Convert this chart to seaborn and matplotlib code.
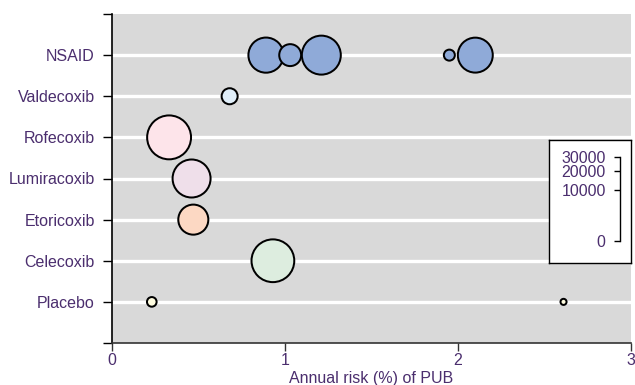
import numpy as np
import pandas as pd
import matplotlib
matplotlib.use("Agg")
import matplotlib.pyplot as plt
import seaborn as sns

# categories, top to bottom
drugs = ["NSAID", "Valdecoxib", "Rofecoxib", "Lumiracoxib", "Etoricoxib", "Celecoxib", "Placebo"]

# one row per trial arm
arm_drug = ["NSAID", "NSAID", "NSAID", "NSAID", "NSAID",
            "Valdecoxib", "Rofecoxib", "Lumiracoxib", "Etoricoxib", "Celecoxib",
            "Placebo", "Placebo"]
arm_risk = [0.89, 1.03, 1.21, 1.95, 2.10,
            0.68, 0.33, 0.46, 0.47, 0.93,
            0.23, 2.61]
arm_patients = [5300, 2200, 6450, 650, 5250,
                1250, 8100, 6150, 3950, 7700,
                520, 250]

fills = {
    "NSAID": "#8faad8",
    "Valdecoxib": "#e0eef9",
    "Rofecoxib": "#fde4ea",
    "Lumiracoxib": "#efdfea",
    "Etoricoxib": "#fcd8c3",
    "Celecoxib": "#ddeddf",
    "Placebo": "#fffde0",
}

x_ticks = [0, 1, 2, 3]
legend_ticks = [0, 10000, 20000, 30000]

purple = "#4b2e6e"
dpi = 100
fs = 11.5

sns.set_style("white")
plt.rcParams["font.family"] = ["Liberation Sans", "DejaVu Sans"]

df = pd.DataFrame({"drug": arm_drug, "risk": arm_risk, "n": arm_patients})
# bottom row is position 0
df["pos"] = df["drug"].map({d: len(drugs) - 1 - i for i, d in enumerate(drugs)})

# circle area proportional to number of patients
edge_px = 2.0
outer_px = 51 * np.sqrt(df["n"] / 10000)
df["s"] = ((outer_px - edge_px) * 72 / dpi) ** 2

fig = plt.figure(figsize=(6.35, 3.85), dpi=dpi)
ax = fig.add_axes([112 / 635, 1 - 343 / 385, 519 / 635, 329 / 385])
ax.set_facecolor("#d9d9d9")

for p in range(len(drugs)):
    ax.axhline(p, color="white", lw=2.4, zorder=0.5)

sns.scatterplot(data=df, x="risk", y="pos", hue="drug", palette=fills,
                s=df["s"].values, edgecolor="black", linewidth=edge_px * 72 / dpi,
                legend=False, zorder=3, ax=ax)

ax.set_xlim(0, 3)
ax.set_ylim(-1, len(drugs))
ax.set_xticks(x_ticks)
ax.set_xticklabels([str(t) for t in x_ticks], color=purple, fontsize=fs)
ax.set_yticks(range(-1, len(drugs) + 1))
ax.set_yticklabels([""] + drugs[::-1] + [""], color=purple, fontsize=fs)
ax.set_xlabel("Annual risk (%) of PUB", color=purple, fontsize=fs, labelpad=2)
ax.set_ylabel("")
ax.tick_params(axis="x", bottom=True, length=6, width=1, color="#333333", pad=1)
ax.tick_params(axis="y", left=True, length=6.5, width=1, color="black", pad=6)
for side in ["top", "right"]:
    ax.spines[side].set_visible(False)
ax.spines["left"].set_color("black")
ax.spines["left"].set_linewidth(1.2)
ax.spines["bottom"].set_color("#333333")
ax.spines["bottom"].set_linewidth(1.2)

# size key
box = fig.add_axes([549 / 635, 1 - 263 / 385, 82 / 635, 123 / 385])
box.set_facecolor("white")
box.set_xticks([])
box.set_yticks([])
for sp in box.spines.values():
    sp.set_color("black")
    sp.set_linewidth(1)

key = fig.add_axes([620 / 635, 1 - 241 / 385, 5 / 635, 84 / 385])
key.patch.set_visible(False)
key.set_ylim(0, 1)
key.set_xticks([])
key.set_yticks([(t / max(legend_ticks)) ** 0.45 for t in legend_ticks])
key.set_yticklabels([str(t) for t in legend_ticks], color=purple, fontsize=fs)
key.tick_params(axis="y", left=True, length=4.3, width=1, color="black", pad=6)
for side in ["top", "right", "bottom"]:
    key.spines[side].set_visible(False)
key.spines["left"].set_color("black")
key.spines["left"].set_linewidth(1)

fig.savefig("out.png", dpi=dpi)
